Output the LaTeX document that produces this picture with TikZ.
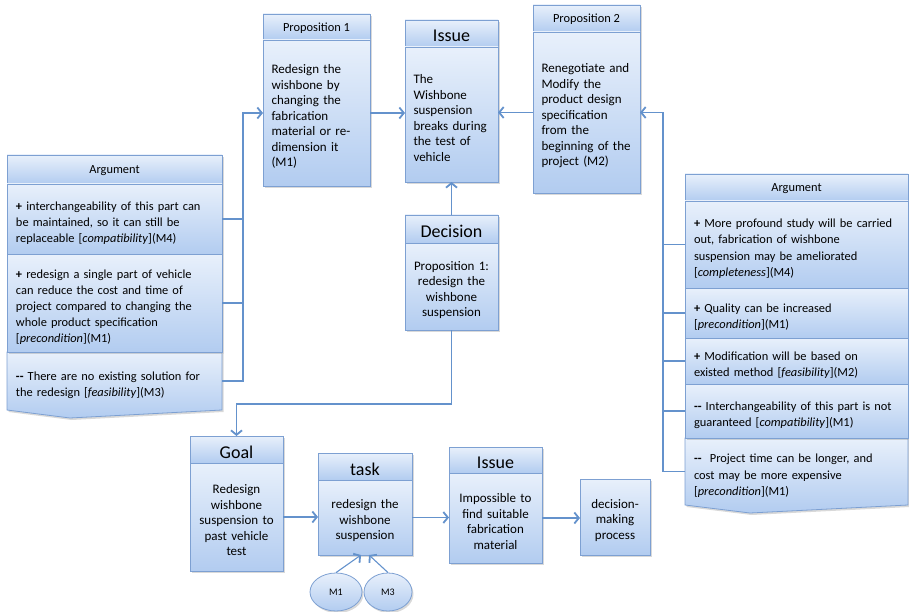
\documentclass[tikz,border=0pt]{standalone}
\usepackage{fontspec}
\setmainfont{Carlito}
\usetikzlibrary{positioning,shapes.geometric,shadows,arrows.meta,backgrounds}

\definecolor{boxtop}{RGB}{232,240,251}
\definecolor{boxbot}{RGB}{178,204,240}
\definecolor{boxline}{RGB}{125,160,210}
\definecolor{linkblue}{RGB}{100,146,204}

\tikzset{
  panel/.style={rectangle, draw=boxline, line width=0.8pt, top color=boxtop, bottom color=boxbot,
    drop shadow={shadow xshift=1.5pt, shadow yshift=-2pt, opacity=0.3}, inner ysep=0pt, outer sep=0pt},
  headsmall/.style={panel, anchor=north west, font=\fontsize{12.4}{15}\selectfont,
    text height=11.5pt, text depth=2.5pt},
  headbig/.style={panel, anchor=north west, font=\fontsize{18}{20}\selectfont,
    text height=17pt, text depth=0pt},
  body/.style={panel, anchor=north west, inner xsep=8.5pt, font=\fontsize{13}{15.5}\selectfont,
    execute at begin node={\rule{0pt}{16pt}}},
  argtext/.style={anchor=north west, inner xsep=9pt, inner ysep=0pt, outer sep=0pt, align=left,
    font=\fontsize{12.4}{16.2}\selectfont, execute at begin node={\rule{0pt}{17pt}}},
  argpart/.style={panel, argtext},
  link/.style={draw=linkblue, line width=1.1pt},
  arrow/.style={link, -{Straight Barb[length=4.5pt,width=11pt,line width=1.8pt]}},
  mark node/.style={ellipse, draw=boxline, line width=0.8pt, top color=boxtop, bottom color=boxbot,
    drop shadow={shadow xshift=1.5pt, shadow yshift=-2pt, opacity=0.3}, inner sep=0pt,
    minimum height=38pt, font=\fontsize{10}{12}\selectfont},
}

\begin{document}
\begin{tikzpicture}[x=1pt,y=-1pt]
\useasboundingbox (0,0) rectangle (909,612);

% the two propositions and the issue
\node (prop1h) [headsmall, minimum width=107pt, minimum height=26pt] at (263,14) {Proposition 1};
\node (prop1b) [body, below=0pt of prop1h, minimum width=107pt, minimum height=146pt, text width=90pt, align=left]
  {Redesign the\\wishbone by\\changing the\\fabrication\\material or re-\\dimension it\\(M1)};

\node (issueh) [headbig, minimum width=93pt, minimum height=27pt] at (405,20) {Issue};
\node (issueb) [body, below=0pt of issueh, minimum width=93pt, minimum height=135pt, text width=76pt, align=left]
  {The\\Wishbone\\suspension\\breaks during\\the test of\\vehicle};

\node (prop2h) [headsmall, minimum width=107pt, minimum height=27pt] at (533,5) {Proposition 2};
\node (prop2b) [body, below=0pt of prop2h, minimum width=107pt, minimum height=161pt, text width=90pt, align=left]
  {Renegotiate and\\Modify the\\product design\\specification\\from the\\beginning of the\\project (M2)};

\node (dech) [headbig, minimum width=93pt, minimum height=28pt] at (405,215) {Decision};
\node (decb) [body, below=0pt of dech, minimum width=93pt, minimum height=87pt, text width=76pt, align=center]
  {Proposition 1:\\redesign the\\wishbone\\suspension};

\draw[arrow] (prop1b.east) -- (issueb.west |- prop1b.east);
\draw[arrow] (prop2b.west) -- (issueb.east |- prop2b.west);
\draw[arrow] (dech.north) -- (issueb.south);

% arguments for proposition 1
\node (argLh) [headsmall, minimum width=215pt, minimum height=29pt] at (7,155) {Argument};
\node (argL1) [argpart, below=0pt of argLh, minimum width=215pt, minimum height=70pt, text width=197pt]
  {\textbf{+} interchangeability of this part can\\be maintained, so it can still be\\replaceable {[}\textit{compatibility}{]}(M4)};
\node (argL2) [argpart, below=0pt of argL1, minimum width=215pt, minimum height=98pt, text width=197pt]
  {\textbf{+} redesign a single part of vehicle\\can reduce the cost and time of\\project compared to changing the\\whole product specification\\{[}\textit{precondition}{]}(M1)};
\node (argL3) [argtext, below=0pt of argL2, minimum width=215pt, minimum height=58pt, text width=197pt]
  {\textbf{-{}-} There are no existing solution for\\the redesign {[}\textit{feasibility}{]}(M3)};
\begin{scope}[on background layer]
  \path[panel] (argL3.north west) -- (argL3.north east) -- (argL3.south east) -- (70,418) -- (argL3.south west) -- cycle;
\end{scope}

\coordinate (lbus) at (243,113);
\draw[link] (argL1.east) -- (argL1.east -| lbus);
\draw[link] (argL2.east) -- (argL2.east -| lbus);
\draw[arrow] (argL3.east) -| (lbus |- prop1b.west) -- (prop1b.west);

% arguments for proposition 2
\node (argRh) [headsmall, minimum width=223pt, minimum height=27pt] at (685,174) {Argument};
\node (argR1) [argpart, below=0pt of argRh, minimum width=223pt, minimum height=87pt, text width=205pt]
  {\textbf{+} More profound study will be carried\\out, fabrication of wishbone\\suspension may be ameliorated\\{[}\textit{completeness}{]}(M4)};
\node (argR2) [argpart, below=0pt of argR1, minimum width=223pt, minimum height=50pt, text width=205pt]
  {\textbf{+} Quality can be increased\\{[}\textit{precondition}{]}(M1)};
\node (argR3) [argpart, below=0pt of argR2, minimum width=223pt, minimum height=46pt, text width=205pt]
  {\textbf{+} Modification will be based on\\existed method {[}\textit{feasibility}{]}(M2)};
\node (argR4) [argpart, below=0pt of argR3, minimum width=223pt, minimum height=54pt, text width=205pt]
  {\textbf{-{}-} Interchangeability of this part is not\\guaranteed {[}\textit{compatibility}{]}(M1)};
\node (argR5) [argtext, below=0pt of argR4, minimum width=223pt, minimum height=67pt, text width=205pt]
  {\textbf{-{}-}\ \ Project time can be longer, and\\cost may be more expensive\\{[}\textit{precondition}{]}(M1)};
\begin{scope}[on background layer]
  \path[panel] (argR5.north west) -- (argR5.north east) -- (argR5.south east) -- (750,513) -- (argR5.south west) -- cycle;
\end{scope}

\coordinate (rbus) at (663,112);
\draw[link] (argR1.west) -- (argR1.west -| rbus);
\draw[link] (argR2.west) -- (argR2.west -| rbus);
\draw[link] (argR3.west) -- (argR3.west -| rbus);
\draw[link] (argR4.west) -- (argR4.west -| rbus);
\draw[arrow] (argR5.west) -| (rbus |- prop2b.east) -- (prop2b.east);

% goal, task and the new issue
\node (goalh) [headbig, minimum width=93pt, minimum height=27pt] at (190,436) {Goal};
\node (goalb) [body, below=0pt of goalh, minimum width=93pt, minimum height=108pt, text width=76pt, align=center]
  {Redesign\\wishbone\\suspension to\\past vehicle\\test};

\node (taskh) [headbig, minimum width=94pt, minimum height=27pt] at (318,453) {task};
\node (taskb) [body, below=0pt of taskh, minimum width=94pt, minimum height=75pt, text width=77pt, align=center]
  {redesign the\\wishbone\\suspension};

\node (issue2h) [headbig, minimum width=93pt, minimum height=26pt] at (449,447) {Issue};
\node (issue2b) [body, below=0pt of issue2h, minimum width=93pt, minimum height=90pt, text width=76pt, align=center]
  {Impossible to\\find suitable\\fabrication\\material};

\node (dmp) [body, inner xsep=5pt, minimum width=70pt, minimum height=76pt, text width=60pt, align=center] at (580,479)
  {decision-\\making\\process};

\node (m1) [mark node, minimum width=52pt] at (336,592) {M1};
\node (m3) [mark node, minimum width=48pt] at (388,592) {M3};

\draw[arrow] (decb.south) -- ++(0,74) -| (goalh.north);
\draw[arrow] (goalb.east) -- (taskb.west |- goalb.east);
\draw[arrow] (taskb.east) -- (issue2b.west |- taskb.east);
\draw[arrow] (issue2b.east) -- (dmp.west |- issue2b.east);
\draw[arrow] (m1.north) -- ([xshift=-4pt]taskb.south);
\draw[arrow] (m3.north) -- ([xshift=4pt]taskb.south);

\end{tikzpicture}
\end{document}
